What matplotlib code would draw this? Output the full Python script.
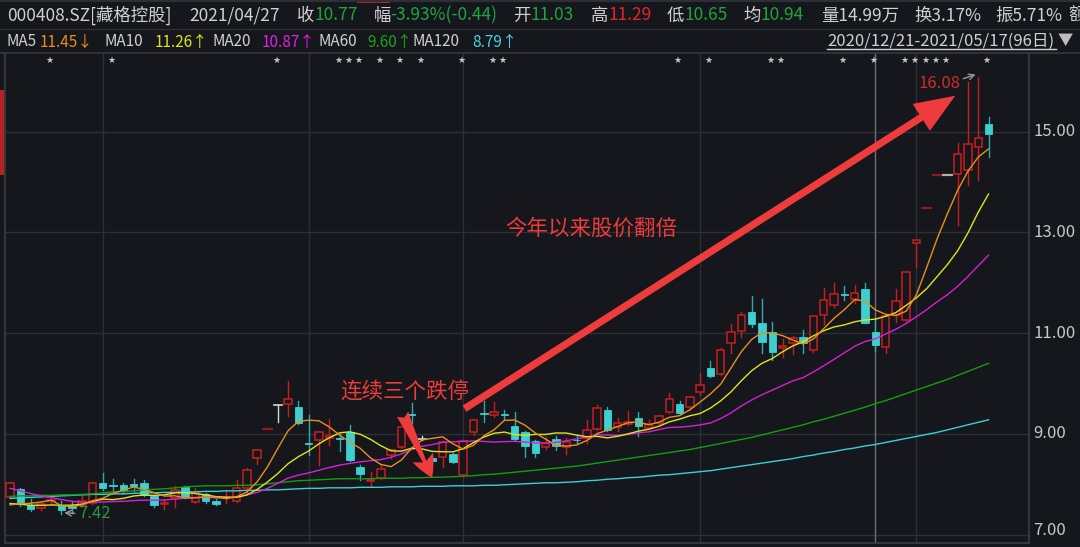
import numpy as np
import pandas as pd
import matplotlib
matplotlib.use('Agg')
import matplotlib.pyplot as plt
from matplotlib.patches import Rectangle
from matplotlib.lines import Line2D

plt.rcParams['font.family'] = ['Noto Sans CJK SC', 'DejaVu Sans']

# ---------------- data ----------------
opens = [7.74, 7.90, 7.59, 7.52, 7.66, 7.58, 7.56, 7.58, 7.62, 8.02,
         7.98, 7.98, 8.00, 8.02, 7.77, 7.60, 7.73, 7.95, 7.64, 7.80,
         7.67, 7.73, 7.67, 7.93, 8.52, 9.10, 9.57, 9.59, 9.54, 8.82,
         8.87, 8.92, 8.92, 9.03, 8.34, 8.07, 8.12, 8.58, 8.74, 9.40,
         8.90, 8.53, 8.55, 8.61, 8.18, 9.03, 9.42, 9.38, 9.40, 9.16,
         9.03, 8.85, 8.73, 8.89, 8.74, 8.88, 8.91, 9.10, 9.47, 9.14,
         9.19, 9.31, 9.12, 9.22, 9.43, 9.59, 9.53, 9.84, 10.30, 10.19,
         10.81, 11.05, 11.42, 11.21, 11.03, 10.70, 10.81, 10.93, 10.67, 11.35,
         11.56, 11.78, 11.67, 11.87, 11.03, 10.73, 11.36, 11.26, 12.78, 13.49,
         14.14, 14.14, 14.15, 14.24, 14.69, 15.14]
highs = [8.05, 7.92, 7.70, 7.64, 7.78, 7.67, 7.66, 7.77, 8.04, 8.22,
         8.10, 8.03, 8.10, 8.08, 7.79, 7.70, 7.97, 7.97, 7.92, 7.82,
         7.70, 7.88, 8.08, 8.33, 8.70, 9.10, 9.57, 10.05, 9.66, 9.37,
         9.06, 9.29, 9.00, 9.18, 8.38, 8.25, 8.40, 8.70, 9.16, 9.61,
         8.95, 8.60, 8.85, 8.63, 8.88, 9.30, 9.66, 9.64, 9.48, 9.43,
         9.05, 8.87, 8.94, 8.95, 8.91, 8.96, 9.28, 9.57, 9.53, 9.31,
         9.46, 9.43, 9.28, 9.37, 9.81, 9.66, 9.76, 10.21, 10.45, 10.70,
         11.19, 11.42, 11.74, 11.67, 11.23, 10.88, 10.95, 11.07, 11.33, 11.89,
         11.99, 11.93, 11.95, 11.99, 11.29, 11.33, 11.87, 12.22, 12.85, 13.49,
         14.14, 14.14, 14.78, 15.99, 16.08, 15.28]
lows = [7.72, 7.57, 7.47, 7.49, 7.60, 7.42, 7.43, 7.56, 7.60, 7.88,
        7.82, 7.83, 7.86, 7.77, 7.55, 7.50, 7.55, 7.72, 7.62, 7.63,
        7.58, 7.63, 7.65, 7.80, 8.40, 9.10, 9.23, 9.36, 9.20, 8.58,
        8.38, 8.78, 8.67, 8.46, 8.08, 7.94, 8.10, 8.52, 8.72, 9.22,
        8.88, 8.44, 8.35, 8.43, 8.16, 8.98, 9.24, 9.33, 9.30, 8.87,
        8.54, 8.55, 8.71, 8.68, 8.60, 8.80, 8.82, 9.08, 9.06, 9.05,
        9.17, 8.96, 9.10, 9.20, 9.41, 9.39, 9.50, 9.77, 10.13, 10.17,
        10.61, 10.93, 11.13, 10.61, 10.47, 10.53, 10.58, 10.61, 10.63, 11.18,
        11.51, 11.65, 11.59, 11.21, 10.65, 10.61, 11.23, 11.24, 12.32, 13.49,
        14.14, 14.14, 13.14, 13.94, 14.04, 14.50]
closes = [8.03, 7.61, 7.50, 7.60, 7.68, 7.48, 7.53, 7.66, 8.02, 7.92,
          7.96, 7.86, 7.97, 7.79, 7.59, 7.62, 7.89, 7.74, 7.82, 7.66,
          7.61, 7.75, 7.93, 8.28, 8.68, 9.10, 9.57, 9.69, 9.21, 8.79,
          9.04, 8.95, 8.90, 8.48, 8.20, 8.09, 8.30, 8.68, 9.14, 9.38,
          8.90, 8.46, 8.83, 8.45, 8.85, 9.28, 9.40, 9.43, 9.38, 8.89,
          8.76, 8.63, 8.82, 8.75, 8.83, 8.87, 9.07, 9.51, 9.08, 9.21,
          9.24, 9.16, 9.20, 9.35, 9.69, 9.41, 9.74, 9.97, 10.15, 10.66,
          11.02, 11.35, 11.19, 10.83, 10.63, 10.75, 10.91, 10.80, 11.33, 11.66,
          11.77, 11.76, 11.80, 11.21, 10.77, 11.33, 11.64, 12.22, 12.84, 13.49,
          14.14, 14.14, 14.55, 14.75, 14.88, 14.95]
# closes of the 19 sessions before the window (needed for MA5/10/20)
pre_closes = [8.62, 8.55, 8.48, 8.40, 8.30, 8.20, 8.05, 7.98, 7.85, 7.80,
              7.75, 7.70, 7.62, 7.60, 7.55, 7.50, 7.45, 7.48, 7.50]
ma60 = [7.76, 7.77, 7.77, 7.78, 7.78, 7.79, 7.79, 7.80, 7.81, 7.83,
        7.85, 7.86, 7.87, 7.89, 7.90, 7.91, 7.93, 7.95, 7.96, 7.97,
        7.97, 7.97, 7.98, 7.98, 7.99, 8.01, 8.03, 8.05, 8.07, 8.08,
        8.09, 8.10, 8.11, 8.11, 8.11, 8.11, 8.12, 8.12, 8.12, 8.13,
        8.13, 8.14, 8.14, 8.15, 8.16, 8.17, 8.19, 8.20, 8.22, 8.24,
        8.26, 8.28, 8.30, 8.32, 8.34, 8.36, 8.39, 8.42, 8.45, 8.48,
        8.51, 8.54, 8.57, 8.60, 8.63, 8.66, 8.69, 8.73, 8.77, 8.81,
        8.85, 8.89, 8.93, 8.98, 9.03, 9.08, 9.13, 9.18, 9.24, 9.29,
        9.35, 9.41, 9.47, 9.53, 9.60, 9.66, 9.73, 9.80, 9.87, 9.94,
        10.01, 10.08, 10.16, 10.24, 10.32, 10.40]
ma120 = [7.72, 7.73, 7.74, 7.75, 7.76, 7.77, 7.78, 7.79, 7.80, 7.80,
         7.81, 7.81, 7.82, 7.83, 7.83, 7.84, 7.84, 7.85, 7.85, 7.86,
         7.86, 7.87, 7.87, 7.88, 7.88, 7.89, 7.89, 7.90, 7.91, 7.92,
         7.92, 7.93, 7.93, 7.93, 7.94, 7.94, 7.94, 7.95, 7.95, 7.95,
         7.96, 7.96, 7.96, 7.97, 7.97, 7.97, 7.98, 7.98, 7.99, 8.00,
         8.01, 8.02, 8.03, 8.03, 8.04, 8.05, 8.07, 8.08, 8.10, 8.11,
         8.13, 8.14, 8.16, 8.18, 8.19, 8.21, 8.23, 8.25, 8.27, 8.30,
         8.33, 8.36, 8.39, 8.42, 8.45, 8.48, 8.51, 8.55, 8.58, 8.62,
         8.65, 8.69, 8.72, 8.76, 8.79, 8.83, 8.87, 8.91, 8.95, 8.99,
         9.03, 9.08, 9.13, 9.18, 9.23, 9.28]
star_days = [4, 10, 26, 32, 33, 34, 36, 38, 40, 44, 47, 48, 65,
             68, 74, 75, 81, 84, 87, 88, 89, 90, 91, 95]
price_ticks = [7.0, 9.0, 11.0, 13.0, 15.0]
month_starts = [9, 29, 44, 67, 88]
cursor_day = 84
low_day, low_label = 5, '7.42'
high_day, high_label = 94, '16.08'

# ---------------- styling ----------------
BG = '#15171c'
GRID = '#2c2f35'
RED = '#c81e1e'
RED_DARK = '#8e1a1a'
CYAN = '#3ecfd0'
CYAN_WICK = '#2fa9ae'
WHITE = '#d8d8d8'
TXT = '#d0d0d0'
GREEN_TXT = '#1ea53c'
RED_TXT = '#e0262b'
C_MA5 = '#e8901f'
C_MA10 = '#e2e21c'
C_MA20 = '#d91ed9'
C_MA60 = '#129e12'
C_MA120 = '#3ccfd6'

W, H = 1080, 547
fig = plt.figure(figsize=(W / 100, H / 100), dpi=100)
fig.patch.set_facecolor(BG)

# plot area in pixels: x 5..1029, y 53..543 (from top)
ax = fig.add_axes([5 / W, 1 - 543 / H, 1024 / W, 490 / H])
ax.set_facecolor(BG)
n = len(closes)
ax.set_xlim(-0.485, 98.93)
ax.set_ylim(6.835, 16.558)
ax.spines['top'].set_visible(False)
for s in ['left', 'right', 'bottom']:
    ax.spines[s].set_color('#3a3d43')
    ax.spines[s].set_linewidth(1.2)
ax.set_xticks([])
ax.set_yticks([])

for p in price_ticks:
    ax.axhline(p, color=GRID, lw=1.0, zorder=0)
for m in month_starts:
    ax.axvline(m, color=GRID, lw=1.0, zorder=0)
ax.axvline(cursor_day, color='#6e7076', lw=1.0, zorder=1)

# ---------------- candles ----------------
bw = 0.72
prev_c = pre_closes[-1]
for i in range(n):
    o, h, l, c = opens[i], highs[i], lows[i], closes[i]
    if h == l:  # one-price bar
        col = RED_DARK if c > prev_c else (CYAN if c < prev_c else '#b0b0b0')
        ax.plot([i - 0.5 * bw - 0.15, i + 0.5 * bw + 0.15], [c, c], color=col, lw=1.6,
                solid_capstyle='butt', zorder=3)
    elif c > o:
        ax.plot([i, i], [c, h], color=RED, lw=1.0, zorder=2)
        ax.plot([i, i], [l, o], color=RED, lw=1.0, zorder=2)
        ax.add_patch(Rectangle((i - bw / 2, o), bw, c - o, facecolor=BG,
                               edgecolor=RED, lw=1.1, zorder=3))
    elif c < o:
        ax.plot([i, i], [l, h], color=CYAN_WICK, lw=1.0, zorder=2)
        ax.add_patch(Rectangle((i - bw / 2, c), bw, o - c, facecolor=CYAN,
                               edgecolor=CYAN, lw=0.6, zorder=3))
    else:
        ax.plot([i, i], [l, h], color=WHITE, lw=1.0, zorder=2)
        ax.plot([i - bw / 2, i + bw / 2], [c, c], color=WHITE, lw=1.2, zorder=3)
    prev_c = c

# ---------------- moving averages ----------------
allc = pd.Series(pre_closes + closes)
k = len(pre_closes)
ma5 = allc.rolling(5).mean().values[k:]
ma10 = allc.rolling(10).mean().values[k:]
ma20 = allc.rolling(20).mean().values[k:]
xs = np.arange(n)
ax.plot(xs, ma120, color=C_MA120, lw=1.0, zorder=4)
ax.plot(xs, ma60, color=C_MA60, lw=1.0, zorder=4)
ax.plot(xs, ma20, color=C_MA20, lw=1.0, zorder=4)
ax.plot(xs, ma10, color=C_MA10, lw=1.0, zorder=4)
ax.plot(xs, ma5, color=C_MA5, lw=1.0, zorder=4)

# ---------------- markers along the top ----------------
xtr = ax.get_xaxis_transform()
for d in star_days:
    ax.text(d - 0.15, (543 - 60) / 490, '★', transform=xtr, color='#c4c4c4',
            fontsize=6.5, ha='center', va='center', family='DejaVu Sans', zorder=6)

# low / high labels
ax.annotate('', xy=(low_day, lows[low_day] + 0.02), xytext=(low_day + 1.55, lows[low_day] + 0.0),
            arrowprops=dict(arrowstyle='->', color='#9a9a9a', lw=1.0), zorder=6)
ax.text(low_day + 1.6, lows[low_day] - 0.0, low_label, color='#1f9c3c', fontsize=12,
        ha='left', va='center', style='italic', zorder=6)
ax.annotate('', xy=(high_day, highs[high_day] + 0.07), xytext=(high_day - 1.7, highs[high_day] - 0.05),
            arrowprops=dict(arrowstyle='->', color='#9a9a9a', lw=1.0), zorder=6)
ax.text(high_day - 1.75, highs[high_day] - 0.12, high_label, color='#d12a2a', fontsize=12,
        ha='right', va='center', zorder=6)

# ---------------- annotations (red arrows + captions) ----------------
ARROW_RED = '#ee3b3b'
ax.annotate('', xy=(92.0, 15.74), xytext=(43.9, 9.47),
            arrowprops=dict(arrowstyle='simple,head_length=1.45,head_width=1.15,tail_width=0.26',
                            mutation_scale=20, color=ARROW_RED, lw=0), zorder=7)
ax.annotate('', xy=(41.1, 8.08), xytext=(38.0, 9.44),
            arrowprops=dict(arrowstyle='fancy,head_length=0.8,head_width=0.8,tail_width=0.45',
                            mutation_scale=20, color=ARROW_RED, lw=0), zorder=7)
ax.text(48.1, 13.07, '今年以来股价翻倍', color=ARROW_RED, fontsize=15.5,
        ha='left', va='center', zorder=7)
ax.text(32.1, 9.83, '连续三个跌停', color=ARROW_RED, fontsize=15.5,
        ha='left', va='center', zorder=7)

# ---------------- right price axis ----------------
ytr = ax.get_yaxis_transform()
for p in price_ticks:
    off = 0.08 if p == min(price_ticks) else 0.0
    ax.text(1.0045, p + off, f'{p:.2f}', transform=ytr, color='#c8c8c8', fontsize=12,
            ha='left', va='center', clip_on=False)

# ---------------- header ----------------
def ftext(x, y, s, color=TXT, size=12.5, **kw):
    fig.text(x / W, 1 - y / H, s, color=color, fontsize=size, ha='left', va='center', **kw)

row1 = [(7, '000408.SZ[藏格控股]', TXT), (189, '2021/04/27', TXT),
        (297, '收', TXT), (314, '10.77', GREEN_TXT),
        (374, '幅', TXT), (390, '-3.93%(-0.44)', GREEN_TXT),
        (513, '开', TXT), (530, '11.03', GREEN_TXT),
        (591, '高', TXT), (608, '11.29', RED_TXT),
        (667, '低', TXT), (684, '10.65', GREEN_TXT),
        (743, '均', TXT), (760, '10.94', GREEN_TXT),
        (821, '量14.99万', TXT), (914, '换3.17%', TXT), (995, '振5.71%', TXT),
        (1068, '额', TXT)]
for x, s, c in row1:
    ftext(x, 15.5, s, c)

row2 = [(7, 'MA5', TXT), (40, '11.45↓', C_MA5),
        (104, 'MA10', TXT), (155, '11.26↑', C_MA10),
        (212, 'MA20', TXT), (262, '10.87↑', '#e020e0'),
        (318, 'MA60', TXT), (367, '9.60↑', '#1aa51a'),
        (413, 'MA120', TXT), (472, '8.79↑', '#45d4dc')]
for x, s, c in row2:
    ftext(x, 42, s, c, size=11)

ftext(827, 41, '2020/12/21-2021/05/17(96日)', TXT, size=12)
fig.add_artist(Line2D([827 / W, 1056 / W], [1 - 49 / H, 1 - 49 / H], color=TXT, lw=1.0))
ftext(1058, 40, '▼', '#bdbdbd', size=11)

# separators
fig.add_artist(Line2D([0, 1], [1 - 29 / H, 1 - 29 / H], color='#2c2f35', lw=1.0))
fig.add_artist(Line2D([0, 1], [1 - 53 / H, 1 - 53 / H], color='#34373d', lw=1.2))
fig.add_artist(Line2D([0, 1], [1 - 1 / H, 1 - 1 / H], color='#2c2f35', lw=1.5))
# small coloured tabs at the edges
fig.add_artist(Rectangle((0, 1 - 175 / H), 4 / W, 85 / H, transform=fig.transFigure,
                         facecolor='#b82222', edgecolor='none'))
fig.add_artist(Rectangle((357 / W, 1 - 3 / H), 33 / W, 3 / H, transform=fig.transFigure,
                         facecolor='#c02020', edgecolor='none'))

fig.savefig('out.png', dpi=100, facecolor=BG)
